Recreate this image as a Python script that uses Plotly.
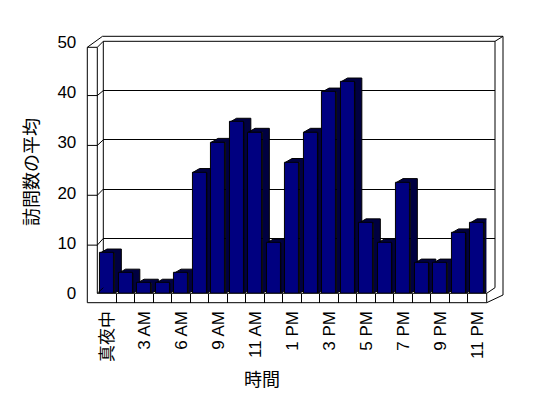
import plotly.graph_objects as go

# ---- data ----
hours = ["真夜中", "1 AM", "3 AM", "4 AM", "6 AM", "7 AM", "9 AM", "10 AM", "11 AM", "正午",
         "1 PM", "2 PM", "3 PM", "4 PM", "5 PM", "6 PM", "7 PM", "8 PM", "9 PM", "10 PM", "11 PM"]
visits = [8, 4, 2, 2, 4, 24, 30, 34, 32, 10, 26, 32, 40, 42, 14, 10, 22, 6, 6, 12, 14]
y_ticks = [0, 10, 20, 30, 40, 50]
shown_idx = list(range(0, len(hours), 2))
shown_labels = [hours[i] for i in shown_idx]

# page body has an 8px margin, so the figure sits at (8, 8) in the window
OFF = 8
W, H = 548 - OFF, 398 - OFF
def fx(p): return (p - OFF) / W
def fy(p): return 1 - (p - OFF) / H

NAVY = "#000080"
SIDE = "#000040"
BW = 0.773          # front-face width (category units)
DX, DY = 0.378, 0.8  # 3D depth offset (category units / value units)

xs = list(range(len(hours)))

# side + top faces of each column
px, py = [], []
for i, v in zip(xs, visits):
    l, r = i - BW / 2, i + BW / 2
    px += [r, r + DX, r + DX, l + DX, l, r, r, None]
    py += [0, DY, v + DY, v + DY, v, v, 0, None]

fig = go.Figure()
fig.add_trace(go.Scatter(x=[], y=[], xaxis="x", yaxis="y", showlegend=False, hoverinfo="skip"))
fig.add_trace(go.Scatter(x=px, y=py, xaxis="x2", yaxis="y2", mode="lines", fill="toself",
                         fillcolor=SIDE, line=dict(color="black", width=1),
                         showlegend=False, hoverinfo="skip"))
fig.add_trace(go.Bar(x=xs, y=visits, xaxis="x3", yaxis="y3", width=BW,
                     marker=dict(color=NAVY, line=dict(color="black", width=1)),
                     showlegend=False))
fig.add_trace(go.Scatter(x=[], y=[], xaxis="x3", yaxis="y4", showlegend=False, hoverinfo="skip"))

LAB_FONT = dict(family="Liberation Sans, Arial, Noto Sans CJK JP", size=17, color="black")
JP_FONT = "Noto Sans CJK JP, Liberation Sans"

x_dom = [fx(97.95), fx(486.45)]
bar_ydom = [fy(293.3), fy(41.8)]

fig.update_layout(
    template="none",
    width=W, height=H,
    margin=dict(l=0, r=0, t=0, b=0, pad=0),
    paper_bgcolor="white", plot_bgcolor="rgba(0,0,0,0)",
    showlegend=False,
    xaxis=dict(domain=[fx(103.3), fx(495)], range=[0, 1], visible=False, automargin=False),
    yaxis=dict(domain=[fy(287.7), fy(41.3)], range=[0, 50], tickvals=y_ticks,
               showgrid=True, gridcolor="black", gridwidth=1, showticklabels=False,
               zeroline=False, showline=False, ticks="", automargin=False),
    xaxis2=dict(domain=x_dom, range=[-0.5, len(hours) - 0.5], anchor="free", position=fy(302.7),
                tickmode="array", tickvals=[i + 0.5 for i in xs[:-1]], ticks="inside", ticklen=9,
                tickcolor="black", tickwidth=1, showticklabels=False, showgrid=False,
                zeroline=False, showline=False, automargin=False),
    yaxis2=dict(domain=bar_ydom, range=[0, 50], visible=False, automargin=False),
    xaxis3=dict(domain=x_dom, range=[-0.5, len(hours) - 0.5], overlaying="x2", anchor="free",
                position=fy(302.7), tickmode="array", tickvals=shown_idx, ticktext=shown_labels,
                tickangle=-90, ticks="", ticklabelstandoff=4, showgrid=False, zeroline=False,
                showline=False, tickfont=LAB_FONT, automargin=False),
    yaxis3=dict(domain=bar_ydom, range=[0, 50], overlaying="y2", visible=False, automargin=False),
    yaxis4=dict(domain=[fy(295), fy(45.7)], range=[0, 50], overlaying="y2", anchor="free",
                position=fx(87.3), side="left", tickvals=y_ticks, ticks="", ticklabelstandoff=11,
                showgrid=False, zeroline=False, showline=False, automargin=False,
                tickfont=dict(family="Liberation Sans, Arial", size=17, color="black")),
    bargap=0,
)

def seg(x0, y0, x1, y1, layer="above"):
    fig.add_shape(type="line", xref="paper", yref="paper",
                  x0=fx(x0), y0=fy(y0), x1=fx(x1), y1=fy(y1),
                  line=dict(color="black", width=1), layer=layer)

# left wall
seg(87.3, 47.3, 87.3, 302.7)
seg(97.3, 47.3, 97.3, 293.3)
seg(87.3, 47.3, 97.3, 47.3)
seg(87.3, 47.3, 102.5, 36.3)
seg(97.3, 47.3, 103.3, 41.3)
# top / back wall
seg(102.5, 36.3, 503, 36.3)
seg(103.3, 41.3, 495, 41.3)
seg(103.3, 41.3, 103.3, 287.7, layer="below")
seg(495, 41.3, 495, 287.7, layer="below")
seg(495, 41.3, 503, 36.3)
seg(503, 36.3, 503, 295)
seg(503, 295, 486.7, 302.7)
# floor
seg(97.3, 293.3, 486.7, 293.3)
seg(87.3, 302.7, 486.7, 302.7)
seg(486.7, 293.3, 486.7, 302.7)
seg(486.7, 293.3, 495, 287.7)
seg(97.3, 293.3, 103.3, 287.7)
for v in y_ticks[1:-1]:
    yf = 295 - (295 - 45.7) * v / 50
    yb = 287.7 - (287.7 - 41.3) * v / 50
    seg(87.3, yf, 97.3, yf)
    seg(97.3, yf, 103.3, yb)

fig.add_annotation(text="訪問数の平均", textangle=-90, xref="paper", yref="paper",
                   x=fx(30), y=fy(172), xanchor="center", yanchor="middle", showarrow=False,
                   font=dict(family=JP_FONT, size=18, color="black"))
fig.add_annotation(text="時間", xref="paper", yref="paper", x=fx(262), y=fy(378),
                   xanchor="center", yanchor="middle", showarrow=False,
                   font=dict(family=JP_FONT, size=18, color="black"))

fig.write_html("out.html")
